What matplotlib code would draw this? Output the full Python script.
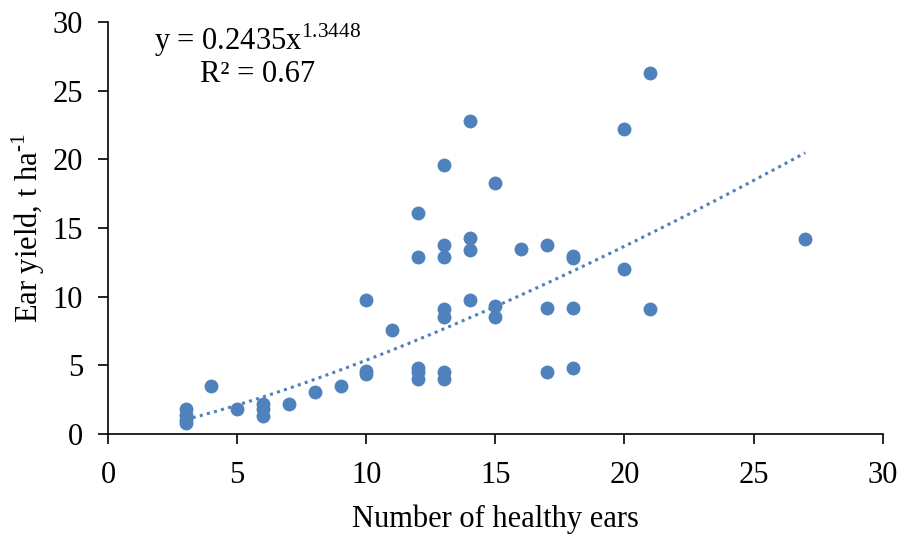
import matplotlib
matplotlib.use("Agg")
import matplotlib.pyplot as plt
import numpy as np

plt.rcParams['font.family'] = ['Liberation Serif', 'DejaVu Serif']
plt.rcParams['mathtext.fontset'] = 'custom'
plt.rcParams['mathtext.rm'] = 'Liberation Serif'

# number of healthy ears vs ear yield
ears = [3, 3, 3, 3, 4, 5, 6, 6, 6, 7, 8, 9,
        10, 10, 10, 11,
        12, 12, 12, 12, 12,
        13, 13, 13, 13, 13, 13, 13,
        14, 14, 14, 14,
        15, 15, 15, 16,
        17, 17, 17,
        18, 18, 18, 18,
        20, 20, 21, 21, 27]
yield_t = [1.8, 1.4, 1.0, 0.8, 3.5, 1.8, 2.2, 1.8, 1.3, 2.2, 3.1, 3.5,
           9.8, 4.6, 4.4, 7.6,
           16.1, 12.9, 4.8, 4.5, 4.0,
           19.6, 13.8, 12.9, 9.1, 8.5, 4.5, 4.0,
           22.8, 14.3, 13.4, 9.8,
           18.3, 9.3, 8.5, 13.5,
           13.8, 9.2, 4.5,
           13.0, 12.8, 9.2, 4.8,
           22.2, 12.0, 26.3, 9.1, 14.2]

# power trendline reported on the chart
coef_a = 0.2435
coef_b = 1.3448
r2 = 0.67

blue = '#4f81bd'

fig = plt.figure(figsize=(9.09, 5.4), dpi=100)
ax = fig.add_axes([0.119, 0.196, 0.852, 0.763])

ax.scatter(ears, yield_t, s=100, color=blue, zorder=3, linewidths=0)

xt = np.linspace(min(ears), max(ears), 200)
ax.plot(xt, coef_a * xt ** coef_b, color=blue, linestyle=(0, (1, 1.4)), linewidth=2.2)

ax.set_xlim(0, 30)
ax.set_ylim(0, 30)
ax.set_xticks(np.arange(0, 31, 5))
ax.set_yticks(np.arange(0, 31, 5))
ax.spines['top'].set_visible(False)
ax.spines['right'].set_visible(False)
ax.spines['left'].set_linewidth(1.2)
ax.spines['bottom'].set_linewidth(1.2)
ax.tick_params(labelsize=22, length=7, width=1.2, direction='out')
ax.tick_params(axis='x', pad=12)
ax.tick_params(axis='y', pad=11)
ax.set_xlabel('Number of healthy ears', fontsize=22, labelpad=11)
ax.set_ylabel(r'Ear yield, t ha$^{\text{-1}}$', fontsize=22, labelpad=4)

ax.text(5.8, 28.7, r'y = %.4fx$^{\mathregular{%.4f}}$' % (coef_a, coef_b),
        fontsize=22, ha='center', va='center')
ax.text(5.8, 26.2, 'R² = %.2f' % r2, fontsize=22, ha='center', va='center')

fig.savefig('out.png', dpi=100)
